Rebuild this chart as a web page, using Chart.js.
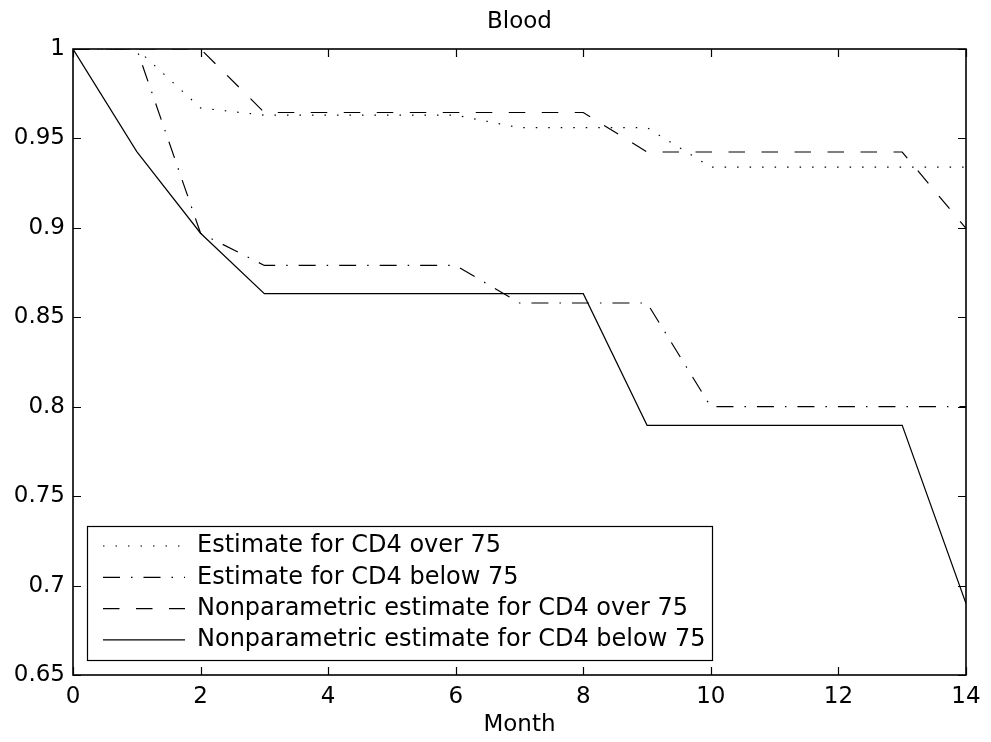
<!DOCTYPE html>
<html>
<head>
<meta charset="utf-8">
<script src="https://cdn.jsdelivr.net/npm/chart.js@4.4.1/dist/chart.umd.min.js"></script>
<style>
  html, body { margin: 0; padding: 0; background: #fff; }
  #wrap { width: 991px; height: 742px; }
</style>
</head>
<body>
<div id="wrap"><canvas id="c" width="991" height="742"></canvas></div>
<script>
// ---- data ----
const months = [0, 1, 2, 3, 4, 5, 6, 7, 8, 9, 10, 11, 12, 13, 14];
const estOver75 = [1, 1, 0.967, 0.963, 0.963, 0.963, 0.963, 0.956, 0.956, 0.956, 0.934, 0.934, 0.934, 0.934, 0.934];
const estBelow75 = [1, 1, 0.897, 0.879, 0.879, 0.879, 0.879, 0.858, 0.858, 0.858, 0.800, 0.800, 0.800, 0.800, 0.800];
const npOver75 = [1, 1, 1, 0.9645, 0.9645, 0.9645, 0.9645, 0.9645, 0.9645, 0.9424, 0.9424, 0.9424, 0.9424, 0.9424, 0.8997];
const npBelow75 = [1, 0.9426, 0.897, 0.8632, 0.8632, 0.8632, 0.8632, 0.8632, 0.8632, 0.7896, 0.7896, 0.7896, 0.7896, 0.7896, 0.690];
const seriesNames = [
  'Estimate for CD4 over 75',
  'Estimate for CD4 below 75',
  'Nonparametric estimate for CD4 over 75',
  'Nonparametric estimate for CD4 below 75'
];
const xTickLabels = ['0', '2', '4', '6', '8', '10', '12', '14'];
const yTickLabels = ['0.65', '0.7', '0.75', '0.8', '0.85', '0.9', '0.95', '1'];
const titleText = 'Blood';
const xTitle = 'Month';

const FONT = 'DejaVu Sans';
const toPts = arr => arr.map((v, i) => ({ x: months[i], y: v }));

const mk = (label, arr, dash) => ({
  label, data: toPts(arr),
  borderColor: '#000', backgroundColor: '#000',
  borderWidth: 1.2, borderDash: dash,
  pointRadius: 0, pointHoverRadius: 0, tension: 0, fill: false
});

// inward ticks + full box + legend frame
const boxTicks = {
  id: 'boxTicks',
  afterLayout(chart) {
    const a = chart.chartArea;
    const tb = chart.titleBlock;
    if (tb) { tb.left = a.left; tb.right = a.right; }
    const lg = chart.legend;
    if (!lg) return;
    const h = lg.height, w = lg.width;
    lg.left = 95.7; lg.right = lg.left + w;
    lg.bottom = 659.2; lg.top = lg.bottom - h;
  },
  afterDraw(chart) {
    const { ctx, chartArea: a, scales } = chart;
    const xs = scales.x, ys = scales.y;
    ctx.save();
    ctx.strokeStyle = '#000';
    ctx.lineWidth = 1.2;
    ctx.setLineDash([]);
    const L = 8;
    ctx.beginPath();
    xs.ticks.forEach(t => {
      const px = Math.round(xs.getPixelForValue(t.value)) + 0.5;
      ctx.moveTo(px, a.bottom); ctx.lineTo(px, a.bottom - L);
      ctx.moveTo(px, a.top); ctx.lineTo(px, a.top + L);
    });
    ys.ticks.forEach(t => {
      const py = Math.round(ys.getPixelForValue(t.value)) + 0.5;
      ctx.moveTo(a.left, py); ctx.lineTo(a.left + L, py);
      ctx.moveTo(a.right, py); ctx.lineTo(a.right - L, py);
    });
    ctx.stroke();
    ctx.lineWidth = 1.6;
    ctx.strokeRect(a.left, a.top, a.right - a.left, a.bottom - a.top);
    const lg = chart.legend;
    if (lg && lg.legendHitBoxes && lg.legendHitBoxes.length) {
      let maxR = 0;
      lg.legendHitBoxes.forEach(hb => { maxR = Math.max(maxR, hb.left + hb.width); });
      ctx.lineWidth = 1.2;
      ctx.strokeRect(87.5, 526.5, Math.round(maxR + 7) - 87, 660 - 526);
    }
    ctx.restore();
  }
};

new Chart(document.getElementById('c'), {
  type: 'line',
  data: {
    datasets: [
      mk(seriesNames[0], estOver75, [1.5, 11]),
      mk(seriesNames[1], estBelow75, [17, 11, 1.5, 11]),
      mk(seriesNames[2], npOver75, [16.5, 16.5]),
      mk(seriesNames[3], npBelow75, [])
    ]
  },
  options: {
    responsive: false,
    animation: false,
    devicePixelRatio: 1,
    layout: { padding: { left: 0, right: 25, top: 0, bottom: 0 } },
    plugins: {
      title: {
        display: true, text: titleText, color: '#000',
        font: { family: FONT, size: 23, weight: 'normal', lineHeight: 1.2 },
        padding: { top: 8.2, bottom: 13.2 }
      },
      legend: {
        display: true, position: 'chartArea', align: 'end',
        labels: {
          usePointStyle: true, pointStyle: 'line', pointStyleWidth: 82,
          color: '#000', padding: 7.3,
          font: { family: FONT, size: 24 },
          generateLabels(chart) {
            const items = Chart.defaults.plugins.legend.labels.generateLabels(chart);
            items.forEach(it => {
              const ds = chart.data.datasets[it.datasetIndex];
              it.lineDash = ds.borderDash;
              it.lineWidth = ds.borderWidth;
              it.strokeStyle = '#000';
              it.fillStyle = '#000';
              it.pointStyle = 'line';
              it.lineCap = 'butt';
            });
            return items;
          }
        }
      },
      tooltip: { enabled: false }
    },
    scales: {
      x: {
        type: 'linear', min: 0, max: 14,
        grid: { display: false, drawTicks: false },
        border: { display: false },
        ticks: {
          stepSize: 2, padding: 8.2, color: '#000', maxRotation: 0,
          font: { family: FONT, size: 23 },
          callback: (v, i) => xTickLabels[i]
        },
        title: {
          display: true, text: xTitle, color: '#000',
          font: { family: FONT, size: 23, lineHeight: 1.2 },
          padding: { top: 0, bottom: 3.2 }
        },
        afterFit(s) { s.height = 67; }
      },
      y: {
        type: 'linear', min: 0.65, max: 1,
        grid: { display: false, drawTicks: false },
        border: { display: false },
        ticks: {
          stepSize: 0.05, padding: 8, color: '#000',
          font: { family: FONT, size: 23 },
          callback: (v, i) => yTickLabels[i]
        },
        afterFit(s) { s.width = 73; }
      }
    }
  },
  plugins: [boxTicks]
});
</script>
</body>
</html>
